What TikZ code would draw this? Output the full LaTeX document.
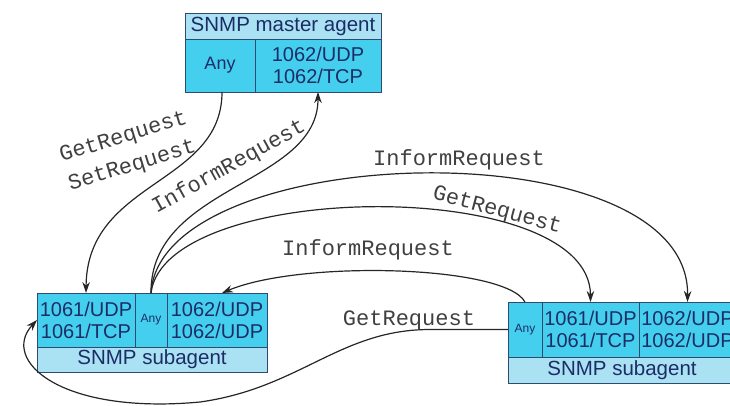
\documentclass[tikz,border=0pt]{standalone}
\usepackage{fontspec}
\newfontfamily\boxfont{Liberation Sans}
\newfontfamily\msgfont{Liberation Mono}
\usetikzlibrary{arrows.meta}
\definecolor{cellcyan}{HTML}{45CFEF}
\definecolor{celllight}{HTML}{AAE2F4}
\definecolor{cellline}{HTML}{2E4A6E}
\definecolor{celltext}{HTML}{1C2D66}
\begin{document}
\begin{tikzpicture}[x=1pt,y=-1pt,
 cell/.style={draw=cellline, line width=0.9pt, fill=cellcyan, text=celltext, inner sep=0pt, outer sep=0pt, align=center, font=\boxfont\fontsize{20}{22}\selectfont, anchor=center},
 titlecell/.style={cell, fill=celllight, font=\boxfont\fontsize{20.5}{22}\selectfont},
 smallany/.style={font=\boxfont\fontsize{12}{14}\selectfont},
 msg/.style={-{Stealth[length=11pt,width=7.5pt]}, line width=1.2pt, draw=black!85},
 lbl/.style={font=\msgfont\fontsize{22}{30}\selectfont, text=black!75, inner sep=0pt, align=center}]
\useasboundingbox (0,0) rectangle (730,405);

% master agent
\node[titlecell, minimum width=196pt, minimum height=26pt] (mtitle) at (283,26) {SNMP master agent};
\node[cell, minimum width=70pt, minimum height=53pt, font=\boxfont\fontsize{18}{20}\selectfont] (many) at (220,65.5) {Any};
\node[cell, minimum width=126pt, minimum height=53pt] (mports) at (318,65.5) {1062/UDP\\1062/TCP};

% left subagent
\node[cell, minimum width=98pt, minimum height=54pt] (lp1) at (86,320) {1061/UDP\\1061/TCP};
\node[cell, smallany, minimum width=32pt, minimum height=54pt] (lany) at (151,320) {Any};
\node[cell, minimum width=100pt, minimum height=54pt] (lp2) at (217,320) {1062/UDP\\1062/UDP};
\node[titlecell, minimum width=230pt, minimum height=25pt] (ltitle) at (152,359.5) {SNMP subagent};

% right subagent
\node[cell, smallany, minimum width=34pt, minimum height=55pt] (rany) at (525,329.5) {Any};
\node[cell, minimum width=97pt, minimum height=55pt] (rp1) at (590.5,329.5) {1061/UDP\\1061/TCP};
\node[cell, minimum width=97pt, minimum height=55pt] (rp2) at (687.5,329.5) {1062/UDP\\1062/UDP};
\node[titlecell, minimum width=228pt, minimum height=26pt] (rtitle) at (622,370) {SNMP subagent};

% connectors
\draw[msg] ([xshift=2pt]many.south) .. controls (222,185) and (87,180) .. (lp1.north);
\draw[msg] (lany.north) .. controls (150,185) and (318,185) .. (mports.south);
\draw[msg] (lany.north) .. controls (160,140) and (690,125) .. (rp2.north);
\draw[msg] (lany.north) .. controls (165,180) and (590,175) .. (rp1.north);
\draw[msg] (rany.north) .. controls (505,265) and (300,260) .. ([xshift=5pt]lp2.north);
\draw[msg] (rany.west) -- (430,329.5) .. controls (340,329.5) and (300,388) .. (200,402) .. controls (60,415) and (0,360) .. (lp1.west);

% labels
\node[lbl, rotate=17] (lgs) at (128,152) {GetRequest\\SetRequest};
\node[lbl, rotate=29] (linf1) at (229,167) {InformRequest};
\node[lbl] (linf2) at (459,160) {InformRequest};
\node[lbl, rotate=-15] (lget1) at (497,211) {GetRequest};
\node[lbl] (linf3) at (368,250) {InformRequest};
\node[lbl] (lget2) at (409,320) {GetRequest};
\end{tikzpicture}
\end{document}
